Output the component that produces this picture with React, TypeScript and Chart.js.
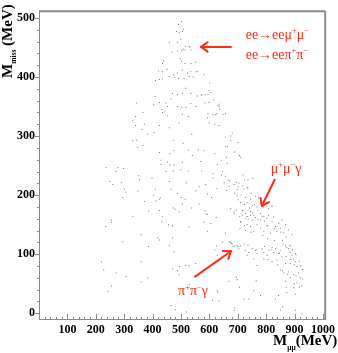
import React, { useEffect, useRef } from 'react';
import { Chart, registerables } from 'chart.js';

Chart.register(...registerables);

// Axis ticks and ranges (MeV)
const X_TICKS = [100, 200, 300, 400, 500, 600, 700, 800, 900, 1000];
const Y_TICKS = [0, 100, 200, 300, 400, 500];
const X_MIN = 0;
const X_MAX = 1008;
const Y_MIN = -11.5;
const Y_MAX = 511.5;

// Events: [M_mumu, M_miss] in MeV
const APEX_EVENTS: [number, number][] = [
  [502,494],[491,489],[509,481],[484,477],[494,475],[505,477],[500,464],[459,458],[488,458],[517,452],
  [529,452],[468,442],[488,444],[503,445],[514,446],[535,446],[439,427],[497,431],[502,427],[514,423],
  [535,423],[552,425],[435,423],[421,410],[435,409],[451,413],[473,404],[488,407],[505,412],[523,407],
  [535,409],[558,410],[410,394],[424,396],[435,397],[459,401],[476,399],[491,398],[511,398],[529,401],
  [543,400],[581,404],[517,381],[601,390],[470,372],[488,370],[505,372],[535,372],[558,368],[573,371],
  [585,370],[599,377],[409,367],[465,363],[424,357],[447,356],[453,350],[404,353],[344,356],[488,350],
  [503,349],[517,349],[535,355],[554,350],[585,356],[599,357],[616,361],[634,350],[634,354],[433,345],
  [441,341],[626,338],[508,447],[531,451],[554,409],[572,369],[595,371],[605,374],[630,352],[636,346],
  [595,338],[613,336],[648,337],
];

const UPPER_EVENTS: [number, number][] = [
  [366,340],[435,340],[340,333],[453,334],[505,336],[526,333],[593,331],[330,326],[340,318],[371,320],
  [424,318],[459,314],[494,322],[599,322],[363,311],[383,303],[406,306],[538,303],[330,292],[344,293],
  [366,284],[348,281],[473,293],[508,288],[424,272],[461,270],[476,275],[526,276],[561,277],[581,275],
  [540,267],[430,259],[453,256],[505,255],[430,252],[461,251],[476,251],[570,257],[237,247],[278,247],
  [298,245],[272,240],[447,240],[473,241],[500,243],[526,241],[573,241],[613,236],[613,229],[351,233],
  [354,226],[398,229],[459,223],[519,221],[564,214],[587,218],[249,223],[260,218],[290,221],[301,210],
  [307,205],[348,207],[410,210],[465,210],[488,203],[552,207],[295,196],[403,200],[427,195],[500,196],
  [515,193],[593,202],[608,196],[371,189],[412,190],[424,193],[473,178],[480,176],[505,185],[538,178],
  [564,185],[386,173],[424,174],[494,172],[585,173],[593,167],[330,164],[435,164],
];

const RIGHT_EVENTS: [number, number][] = [
  [622,336],[634,318],[619,320],[657,338],[657,298],[675,300],[681,305],[675,292],[701,289],[657,282],
  [663,282],[710,264],[628,252],[663,254],[646,240],[642,234],[657,232],[626,211],[652,221],[672,224],
  [669,215],[687,218],[704,220],[698,210],[722,210],[733,213],[698,199],[727,196],[745,193],[762,198],
  [774,195],[710,188],[733,187],[751,182],[768,180],[780,186],[792,180],[809,177],[821,181],[675,177],
  [687,172],[716,174],[727,169],[745,172],[757,166],[780,169],[786,164],[733,164],[809,166],[689,273],
  [706,267],[718,234],[736,226],[753,229],[619,270],[642,259],[660,264],
];

const LOWER_LEFT_EVENTS: [number, number][] = [
  [255,158],[255,154],[235,147],[433,155],[456,150],[470,148],[529,146],[581,154],[605,152],[593,139],
  [589,168],[360,133],[418,128],[424,124],[459,115],[470,128],[476,104],[386,113],[295,121],[220,87],
  [228,73],[272,68],[307,62],[360,87],[360,53],[383,60],[470,75],[494,79],[517,81],[529,80],
  [494,65],[488,72],[552,84],[255,46],[243,37],[529,48],[465,13],[480,6],[519,2],[611,22],
  [624,162],[619,107],[630,88],[630,36],
];

const DENSE_EVENTS: [number, number][] = [
  [687,169],[716,166],[727,161],[733,164],[745,166],[751,158],[762,162],[780,158],[792,164],[803,161],
  [821,155],[827,163],[844,152],[856,158],[710,155],[733,150],[745,147],[768,150],[780,144],[803,148],
  [833,147],[850,144],[868,150],[708,143],[727,140],[757,139],[792,139],[815,136],[838,139],[862,136],
  [879,141],[891,133],[675,120],[681,117],[689,114],[698,114],[710,114],[704,109],[722,117],[727,106],
  [739,103],[751,109],[762,106],[768,101],[786,109],[792,103],[809,106],[803,98],[821,111],[833,109],
  [827,103],[844,101],[850,106],[862,117],[868,114],[873,111],[879,109],[885,103],[887,114],[891,98],
  [897,92],[903,101],[856,95],[821,87],[838,90],[792,92],[757,92],[733,98],[768,81],[868,84],
  [885,84],[903,87],[908,79],[626,114],[646,120],[657,136],[628,98],[850,73],[862,68],[879,70],
  [897,65],[914,68],[920,60],[885,60],[868,54],[908,51],[926,46],[897,43],[873,35],[903,32],
  [844,30],[833,24],[757,38],[780,30],[739,24],[722,24],[698,57],[669,54],[628,38],[634,21],
  [687,5],[850,5],[903,5],[926,0],
];

const CLUSTER_EVENTS: [number, number][] = [
  [689,203],[701,192],[712,200],[724,184],[742,178],[753,170],[718,173],[695,175],[707,164],[759,184],
  [771,175],[771,159],[794,156],[806,148],[829,143],[852,137],[870,129],[858,123],[882,115],[893,107],
  [905,99],[917,88],[922,80],[928,74],[899,82],[887,91],[870,96],[847,102],[817,107],[794,113],
  [765,107],[736,115],[677,118],[683,113],[701,113],[806,126],[829,123],[788,132],[747,137],[724,148],
  [736,159],[712,154],[747,203],[736,211],[718,216],[701,214],[695,222],[724,225],[660,208],[666,225],
  [671,121],[695,61],[706,44],[806,91],[841,82],[858,72],[876,66],[905,63],[899,50],[917,44],
  [870,44],[928,58],[765,55],[689,9],[858,11],
];

const ALL_EVENTS = [
  ...APEX_EVENTS, ...UPPER_EVENTS, ...RIGHT_EVENTS,
  ...LOWER_LEFT_EVENTS, ...DENSE_EVENTS, ...CLUSTER_EVENTS,
];

type Seg = { t: string; sup?: boolean; sub?: boolean };

// Red annotations (data coordinates of left/baseline)
const NOTES: { segs: Seg[]; x: number; y: number }[] = [
  { segs: [{ t: 'ee→eeμ' }, { t: '+', sup: true }, { t: 'μ' }, { t: '−', sup: true }], x: 728, y: 464 },
  { segs: [{ t: 'ee→eeπ' }, { t: '+', sup: true }, { t: 'π' }, { t: '−', sup: true }], x: 728, y: 430 },
  { segs: [{ t: 'μ' }, { t: '+', sup: true }, { t: 'μ' }, { t: '−', sup: true }, { t: 'γ' }], x: 816, y: 238 },
  { segs: [{ t: 'π' }, { t: '+', sup: true }, { t: 'π' }, { t: '−', sup: true }, { t: 'γ' }], x: 490, y: 30 },
];

const ARROWS: { from: [number, number]; to: [number, number] }[] = [
  { from: [676, 451], to: [571, 451] },
  { from: [830, 226], to: [785, 182] },
  { from: [550, 62], to: [676, 105] },
];

const RED = '#ff2a12';
const AXIS_GREY = '#8c8c8c';
const SERIF = '"Liberation Serif", "Times New Roman", serif';

function drawRich(ctx: CanvasRenderingContext2D, x: number, y: number, segs: Seg[], size: number, weight: string, smallScale = 0.6) {
  let cx = x;
  for (const s of segs) {
    const small = s.sup || s.sub;
    const fs = small ? size * smallScale : size;
    ctx.font = `${weight} ${fs}px ${SERIF}`;
    const dy = s.sup ? -size * 0.42 : s.sub ? size * 0.3 : 0;
    ctx.fillText(s.t, cx, y + dy);
    cx += ctx.measureText(s.t).width;
  }
}

const decorPlugin = {
  id: 'decor',
  afterDraw(chart: any) {
    const { ctx, chartArea: a, scales } = chart;
    const xs = scales.x;
    const ys = scales.y;
    ctx.save();
    const line = (x1: number, y1: number, x2: number, y2: number) => {
      ctx.beginPath();
      ctx.moveTo(x1, y1);
      ctx.lineTo(x2, y2);
      ctx.stroke();
    };
    // frame
    ctx.strokeStyle = AXIS_GREY;
    ctx.lineWidth = 2;
    line(a.left, a.top, a.right, a.top);
    line(a.right, a.top, a.right, a.bottom);
    ctx.lineWidth = 1;
    line(a.left + 0.5, a.top, a.left + 0.5, a.bottom);
    line(a.left, a.bottom - 0.5, a.right, a.bottom - 0.5);
    // y ticks
    for (let v = 0; v <= 500; v += 20) {
      const py = Math.round(ys.getPixelForValue(v)) + 0.5;
      const major = v % 100 === 0;
      line(a.left - (major ? 4 : 2), py, a.left + 0.5, py);
    }
    // x ticks (inward)
    for (let v = 20; v <= 1000; v += 20) {
      const px = Math.round(xs.getPixelForValue(v)) + 0.5;
      const major = v % 100 === 0;
      line(px, a.bottom, px, a.bottom - (major ? 6 : 3));
    }

    // axis titles
    ctx.fillStyle = '#000';
    ctx.textBaseline = 'alphabetic';
    ctx.textAlign = 'left';
    drawRich(ctx, 273, 345, [{ t: 'M' }, { t: 'μμ', sub: true }, { t: '(MeV)' }], 15, 'bold', 0.5);
    ctx.save();
    ctx.translate(11.5, 78);
    ctx.rotate(-Math.PI / 2);
    drawRich(ctx, 0, 0, [{ t: 'M' }, { t: 'miss', sub: true }, { t: ' (MeV)' }], 15, 'bold', 0.5);
    ctx.restore();

    // annotations
    ctx.fillStyle = RED;
    for (const n of NOTES) {
      drawRich(ctx, xs.getPixelForValue(n.x), ys.getPixelForValue(n.y), n.segs, 14, 'normal');
    }
    ctx.strokeStyle = RED;
    ctx.lineWidth = 2;
    ctx.lineCap = 'round';
    for (const ar of ARROWS) {
      const x1 = xs.getPixelForValue(ar.from[0]);
      const y1 = ys.getPixelForValue(ar.from[1]);
      const x2 = xs.getPixelForValue(ar.to[0]);
      const y2 = ys.getPixelForValue(ar.to[1]);
      line(x1, y1, x2, y2);
      const ang = Math.atan2(y2 - y1, x2 - x1);
      const hl = 8;
      for (const d of [Math.PI * 0.8, -Math.PI * 0.8]) {
        line(x2, y2, x2 + hl * Math.cos(ang + d), y2 + hl * Math.sin(ang + d));
      }
    }
    ctx.restore();
  },
};

export default function App() {
  const ref = useRef<HTMLCanvasElement | null>(null);
  useEffect(() => {
    document.body.style.margin = '0';
    if (!ref.current) return;
    const chart = new Chart(ref.current, {
      type: 'scatter',
      data: {
        datasets: [
          {
            data: ALL_EVENTS.map(([x, y]) => ({ x, y })),
            pointStyle: 'rect',
            pointRadius: 0.7,
            pointBorderWidth: 0,
            backgroundColor: 'rgba(60,60,60,0.7)',
            borderColor: 'rgba(60,60,60,0.7)',
          },
        ],
      },
      options: {
        animation: false,
        responsive: false,
        devicePixelRatio: 1,
        layout: { padding: { left: 0, top: 1, right: 10, bottom: 0 } },
        plugins: { legend: { display: false }, tooltip: { enabled: false } },
        events: [],
        scales: {
          x: {
            type: 'linear',
            min: X_MIN,
            max: X_MAX,
            grid: { display: false, drawTicks: false },
            border: { display: false },
            afterBuildTicks: (s: any) => { s.ticks = X_TICKS.map((v) => ({ value: v })); },
            afterFit: (s: any) => { s.height = 33; },
            ticks: {
              autoSkip: false,
              maxRotation: 0,
              padding: 3,
              color: '#000',
              font: { family: SERIF, size: 12, weight: 'bold' },
              callback: (v: any) => String(v),
            },
          },
          y: {
            type: 'linear',
            min: Y_MIN,
            max: Y_MAX,
            grid: { display: false, drawTicks: false },
            border: { display: false },
            afterBuildTicks: (s: any) => { s.ticks = Y_TICKS.map((v) => ({ value: v })); },
            afterFit: (s: any) => { s.width = 39; },
            ticks: {
              autoSkip: false,
              padding: 4,
              color: '#000',
              font: { family: SERIF, size: 12, weight: 'bold' },
              callback: (v: any) => String(v),
            },
          },
        },
      },
      plugins: [decorPlugin],
    });
    return () => chart.destroy();
  }, []);
  return (
    <div style={{ width: 338, height: 353 }}>
      <canvas ref={ref} width={338} height={353} style={{ display: 'block' }} />
    </div>
  );
}
